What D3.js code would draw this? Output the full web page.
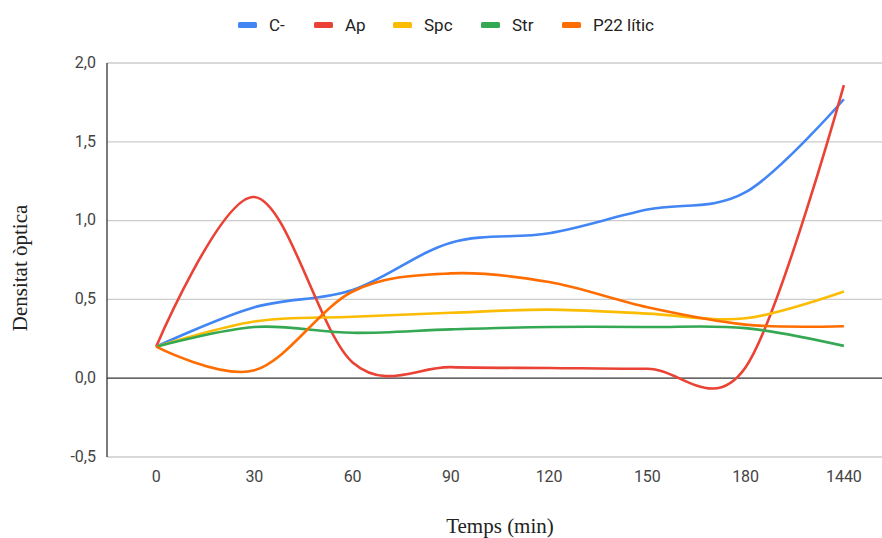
<!DOCTYPE html>
<html>
<head>
<meta charset="utf-8">
<script src="https://cdn.jsdelivr.net/npm/d3@7"></script>
<style>
  html, body { margin: 0; padding: 0; background: #fff; }
  svg { display: block; }
</style>
</head>
<body>
<svg id="chart" width="882" height="538"></svg>
<script>
// Time points (min) and optical density readings per condition
const categories = ["0", "30", "60", "90", "120", "150", "180", "1440"];
const seriesNames = ["C-", "Ap", "Spc", "Str", "P22 lític"];
const valuesCneg = [0.20, 0.45, 0.56, 0.86, 0.92, 1.07, 1.18, 1.77];
const valuesAp   = [0.20, 1.15, 0.10, 0.07, 0.065, 0.06, 0.07, 1.86];
const valuesSpc  = [0.20, 0.36, 0.39, 0.415, 0.435, 0.41, 0.38, 0.55];
const valuesStr  = [0.20, 0.325, 0.288, 0.31, 0.325, 0.325, 0.318, 0.205];
const valuesP22  = [0.20, 0.05, 0.55, 0.665, 0.61, 0.45, 0.34, 0.33];
const yTicks = [-0.5, 0, 0.5, 1.0, 1.5, 2.0];
const colors = ["#4285F4", "#EA4335", "#FBBC04", "#34A853", "#FF6D01"];

const allSeries = [valuesCneg, valuesAp, valuesSpc, valuesStr, valuesP22];

const svg = d3.select("#chart");
const W = 882, H = 538;
const plot = { left: 107, right: 893, top: 63, bottom: 457 };

const x = d3.scaleBand().domain(categories).range([plot.left, plot.right]);
const y = d3.scaleLinear().domain([-0.5, 2.0]).range([plot.bottom, plot.top]);
const fmt = v => v.toFixed(1).replace(".", ",");
const sansFont = "Roboto, Arial, sans-serif";
const serifFont = "Liberation Serif, Times New Roman, serif";

// Horizontal gridlines (zero line drawn darker)
svg.append("g")
  .selectAll("line")
  .data(yTicks)
  .join("line")
  .attr("x1", plot.left).attr("x2", W)
  .attr("y1", d => y(d)).attr("y2", d => y(d))
  .attr("stroke", d => d === 0 ? "#333" : "#cccccc")
  .attr("stroke-width", 1.3);

// Left axis line
svg.append("line")
  .attr("x1", plot.left).attr("x2", plot.left)
  .attr("y1", plot.top).attr("y2", plot.bottom)
  .attr("stroke", "#333").attr("stroke-width", 1.3);

// Y tick labels
svg.append("g")
  .selectAll("text")
  .data(yTicks)
  .join("text")
  .attr("x", plot.left - 11)
  .attr("y", d => y(d))
  .attr("dy", "0.3em")
  .attr("text-anchor", "end")
  .attr("font-family", sansFont)
  .attr("font-size", 16)
  .attr("fill", "#444")
  .text(fmt);

// X tick labels
svg.append("g")
  .selectAll("text")
  .data(categories)
  .join("text")
  .attr("x", d => x(d) + x.bandwidth() / 2)
  .attr("y", 482)
  .attr("text-anchor", "middle")
  .attr("font-family", sansFont)
  .attr("font-size", 16)
  .attr("fill", "#444")
  .text(d => d);

// Series lines, smoothed
const line = d3.line()
  .x((d, i) => x(categories[i]) + x.bandwidth() / 2)
  .y(d => y(d))
  .curve(d3.curveCatmullRom.alpha(0));

svg.append("g")
  .selectAll("path")
  .data(allSeries)
  .join("path")
  .attr("d", line)
  .attr("fill", "none")
  .attr("stroke", (d, i) => colors[i])
  .attr("stroke-width", 2.6)
  .attr("stroke-linejoin", "round")
  .attr("stroke-linecap", "butt");

// Legend
const legendX = [238, 314, 393, 481, 562];
const legend = svg.append("g");
seriesNames.forEach((name, i) => {
  legend.append("rect")
    .attr("x", legendX[i]).attr("y", 22)
    .attr("width", 19).attr("height", 6)
    .attr("rx", 1.5)
    .attr("fill", colors[i]);
  legend.append("text")
    .attr("x", legendX[i] + 31).attr("y", 31)
    .attr("font-family", sansFont)
    .attr("font-size", 17)
    .attr("fill", "#222")
    .text(name);
});

// Axis titles
svg.append("text")
  .attr("x", 500).attr("y", 533)
  .attr("text-anchor", "middle")
  .attr("font-family", serifFont)
  .attr("font-size", 21)
  .attr("fill", "#222")
  .text("Temps (min)");

svg.append("text")
  .attr("transform", "translate(27,268) rotate(-90)")
  .attr("text-anchor", "middle")
  .attr("font-family", serifFont)
  .attr("font-size", 21)
  .attr("fill", "#222")
  .text("Densitat òptica");
</script>
</body>
</html>
